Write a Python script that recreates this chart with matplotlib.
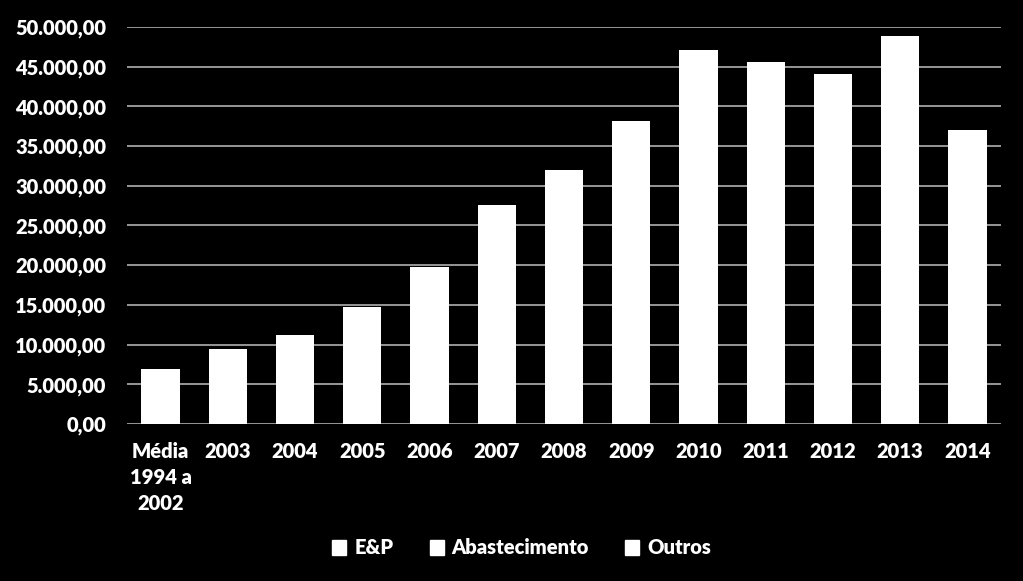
import matplotlib.pyplot as plt
from matplotlib.patches import Patch
from matplotlib.ticker import FuncFormatter

# categories and totals
categories = ["Média\n1994 a\n2002", "2003", "2004", "2005", "2006", "2007",
              "2008", "2009", "2010", "2011", "2012", "2013", "2014"]
totals = [6900, 9450, 11200, 14700, 19800, 27600, 32000,
          38200, 47100, 45600, 44100, 48900, 37000]
series = ["E&P", "Abastecimento", "Outros"]

plt.rcParams['font.family'] = ['Lato', 'DejaVu Sans']
plt.rcParams['font.weight'] = 'bold'

fig = plt.figure(figsize=(10.23, 5.81), dpi=100, facecolor="black")
ax = fig.add_axes([127 / 1023, 157 / 581, 874 / 1023, 397 / 581])
ax.set_facecolor("black")

x = range(len(categories))
ax.bar(x, totals, width=0.57, color="white", zorder=3)

ax.set_ylim(0, 50000)
ax.set_xlim(-0.5, len(categories) - 0.5)
ax.set_yticks(range(0, 50001, 5000))
ax.yaxis.set_major_formatter(FuncFormatter(
    lambda v, p: f"{v:,.2f}".replace(",", "X").replace(".", ",").replace("X", ".")))
ax.grid(axis="y", color="#b0b0b0", linewidth=1.2, zorder=0)

ax.set_xticks(list(x))
ax.set_xticklabels(categories, va="top", ha="center", linespacing=1.45)
ax.tick_params(axis="both", length=0, colors="white", labelsize=14.5)
ax.tick_params(axis="y", pad=15)
ax.tick_params(axis="x", pad=13)
for lbl in ax.get_xticklabels() + ax.get_yticklabels():
    lbl.set_fontweight("heavy")
for s in ax.spines.values():
    s.set_visible(False)

handles = [Patch(facecolor="white", edgecolor="white") for _ in series]
leg = fig.legend(handles, series, loc="center", bbox_to_anchor=(0.51, 1 - 548 / 581),
                 ncol=3, frameon=False, labelcolor="white",
                 prop={"size": 14.5, "weight": "heavy"},
                 handlelength=0.7, handleheight=0.7, handletextpad=0.4, columnspacing=1.8)

fig.savefig("out.png", dpi=100, facecolor="black")
